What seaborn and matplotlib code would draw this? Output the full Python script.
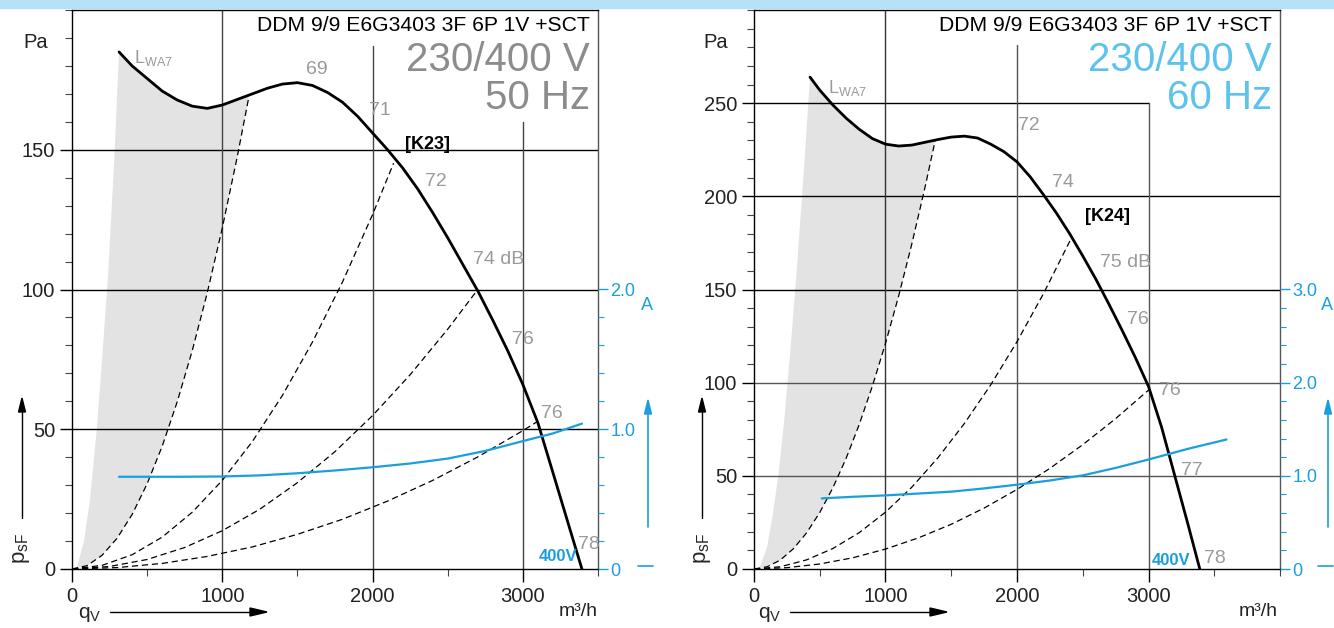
import matplotlib
matplotlib.use("Agg")
import matplotlib.pyplot as plt
import matplotlib.ticker as mticker
from matplotlib.patches import Rectangle
import seaborn as sns

# ---- data (q in m3/h, p in Pa, current in A) ----
# 50 Hz panel
q50 = [313, 400, 500, 600, 700, 800, 900, 1000, 1175, 1300, 1400, 1500, 1600, 1700, 1800, 1900,
       2000, 2100, 2200, 2300, 2400, 2500, 2600, 2700, 2800, 2900, 3000, 3100, 3200, 3300, 3393]
p50 = [185, 180, 175.5, 171, 167.8, 165.6, 164.8, 166, 169.5, 172, 173.5, 174, 173, 170.5, 167, 162,
       156, 150, 143.5, 136, 127.5, 118.5, 109, 99.5, 89, 78, 66, 52.3, 34.5, 16.6, 0]
sys50 = [
    ([0, 100, 200, 300, 400, 500, 600, 700, 800, 900, 1000, 1100, 1175],
     [0, 1.2, 4.9, 11.0, 19.5, 30.5, 43.9, 59.8, 78.1, 98.8, 122, 147.6, 168.4]),
    ([0, 200, 400, 600, 800, 1000, 1200, 1400, 1600, 1800, 2000, 2140],
     [0, 1.3, 5.1, 11.4, 20.3, 31.7, 45.6, 62.1, 81.2, 102.7, 126.8, 145.2]),
    ([0, 250, 500, 750, 1000, 1250, 1500, 1750, 2000, 2250, 2500, 2700],
     [0, 0.9, 3.4, 7.7, 13.7, 21.4, 30.9, 42.0, 54.9, 69.5, 85.8, 100.0]),
    ([0, 300, 600, 900, 1200, 1500, 1800, 2100, 2400, 2700, 3000, 3095],
     [0, 0.5, 2.0, 4.5, 7.9, 12.4, 17.8, 24.3, 31.7, 40.1, 49.5, 52.7]),
]
edge50_q = [30, 80, 120, 165, 200, 240, 280, 313]
edge50_p = [0, 10, 25, 50, 75, 105, 145, 185]
cur50_q = [313, 700, 1000, 1250, 1500, 1750, 2000, 2250, 2500, 2750, 3000, 3200, 3393]
cur50_a = [0.66, 0.66, 0.662, 0.67, 0.685, 0.705, 0.728, 0.755, 0.79, 0.845, 0.915, 0.97, 1.04]
lab50 = [("69", 1627, 178.6), ("71", 2047, 164), ("72", 2420, 138.6), ("74 dB", 2840, 110.7),
         ("76", 3000, 82.1), ("76", 3193, 55.7), ("78", 3440, 8.9)]

# 60 Hz panel
q60 = [426, 500, 600, 700, 800, 900, 1000, 1100, 1200, 1300, 1400, 1500, 1600, 1700, 1800, 1900,
       2000, 2100, 2200, 2300, 2400, 2500, 2600, 2700, 2800, 2900, 3000, 3100, 3200, 3300, 3390]
p60 = [264, 257, 249, 242, 236, 231, 228, 227, 227.5, 229, 230.5, 231.8, 232.3, 231.3, 228, 224,
       218.5, 210.5, 201, 191, 180, 168, 155.5, 142, 128, 113.5, 98, 76, 50, 24, 0]
sys60 = [
    ([0, 100, 200, 300, 400, 500, 600, 700, 800, 900, 1000, 1100, 1200, 1300, 1378],
     [0, 1.2, 4.8, 10.9, 19.4, 30.3, 43.6, 59.3, 77.5, 98.1, 121.1, 146.5, 174.4, 204.7, 230]),
    ([0, 200, 400, 600, 800, 1000, 1200, 1400, 1600, 1800, 2000, 2200, 2414],
     [0, 1.2, 4.9, 11.0, 19.5, 30.5, 43.9, 59.8, 78.1, 98.8, 122, 147.6, 177.7]),
    ([0, 250, 500, 750, 1000, 1250, 1500, 1750, 2000, 2250, 2500, 2750, 3000],
     [0, 0.7, 2.7, 6.0, 10.7, 16.7, 24.0, 32.7, 42.7, 54.0, 66.7, 80.7, 96.0]),
]
edge60_q = [40, 100, 140, 185, 230, 280, 330, 380, 426]
edge60_p = [0, 12, 28, 50, 80, 120, 165, 215, 264]
cur60_q = [515, 750, 1000, 1250, 1500, 1750, 2000, 2250, 2500, 2750, 3000, 3300, 3593]
cur60_a = [0.758, 0.775, 0.79, 0.81, 0.83, 0.865, 0.905, 0.95, 1.005, 1.085, 1.175, 1.29, 1.39]
lab60 = [("72", 2087, 238), ("74", 2353, 207.5), ("75 dB", 2826, 164.6), ("76", 2917, 134),
         ("76", 3161, 96), ("77", 3328, 53), ("78", 3503, 5.9)]

title = "DDM 9/9 E6G3403 3F 6P 1V +SCT"

BLUE = "#1a9fdc"
GREY_TXT = "#9a9a9a"
NARROW = ["Liberation Sans Narrow", "Liberation Sans", "DejaVu Sans"]

sns.set_style("white")
plt.rcParams["font.family"] = ["Liberation Sans", "DejaVu Sans"]
plt.rcParams["mathtext.default"] = "regular"

fig = plt.figure(figsize=(13.34, 6.28), dpi=100)
fig.patches.append(Rectangle((0, 1 - 8 / 628), 1, 8 / 628, transform=fig.transFigure,
                             color="#b5e2f6", zorder=0))


def panel(left, xmax, ymax, ymajor, q, p, sysc, eq, ep, cq, ca, labels, kname, kpos,
          lwa_pos, v400_q, hz, hz_color, cur_max, grids):
    ax = fig.add_axes([left / 1334, 59 / 628, 526 / 1334, 559 / 628])
    ax.set_xlim(0, xmax)
    ax.set_ylim(0, ymax)

    # grey zone: left edge, fan curve, first system curve back down
    k_end = sysc[0][0][-1]
    fq = eq + [x for x in q if x <= k_end] + sysc[0][0][::-1]
    fp = ep + [y for x, y in zip(q, p) if x <= k_end] + sysc[0][1][::-1]
    ax.fill(fq, fp, color="#e3e3e3", lw=0, zorder=1)

    # grid lines (partial, as in the data sheet)
    for kind, val, a, b, col in grids:
        if kind == "h":
            ax.plot([a, b], [val, val], color=col, lw=1, zorder=2)
        else:
            ax.plot([val, val], [a, b], color=col, lw=1, zorder=2)

    for sq, sp in sysc:
        sns.lineplot(x=sq, y=sp, ax=ax, color="black", lw=0.9, linestyle=(0, (5, 3)), zorder=3)
    sns.lineplot(x=q, y=p, ax=ax, color="black", lw=2.0, sort=False, zorder=4)

    for s in ax.spines.values():
        s.set_color("black")
        s.set_linewidth(1)
    ax.spines["right"].set_color("#555555")

    ax.xaxis.set_major_locator(mticker.FixedLocator([0, 1000, 2000, 3000]))
    ax.xaxis.set_minor_locator(mticker.MultipleLocator(500))
    ax.yaxis.set_major_locator(mticker.FixedLocator(ymajor))
    ax.yaxis.set_minor_locator(mticker.MultipleLocator(10))
    ax.tick_params(axis="both", which="major", direction="out", length=9, width=1,
                   color="black", labelsize=14.5, labelcolor="#222222")
    ax.tick_params(axis="both", which="minor", direction="out", length=5, width=0.8, color="#444444")
    ax.tick_params(axis="x", which="major", pad=4)
    ax.tick_params(axis="y", which="major", pad=3)
    ax.tick_params(left=True, bottom=True, which="both")
    ax.set_xlabel("")
    ax.set_ylabel("")

    for t, x, y in labels:
        ax.text(x, y, t, color=GREY_TXT, fontsize=14, family=NARROW, ha="center", va="center", zorder=5)
    ax.text(kpos[0], kpos[1], kname, color="black", fontsize=13, family=NARROW,
            fontweight="bold", ha="center", va="center", zorder=5)
    ax.text(lwa_pos[0], lwa_pos[1], r"L$_{WA7}$", color=GREY_TXT, fontsize=13, family=NARROW,
            ha="left", va="center", zorder=5)

    # header texts, placed on their baselines
    ax.text(0.985, (569 - 31) / 559, title, transform=ax.transAxes, ha="right", va="baseline",
            fontsize=15.2, color="black")
    ax.text(0.985, (569 - 71) / 559, "230/400 V", transform=ax.transAxes, ha="right", va="baseline",
            fontsize=29, color=hz_color)
    ax.text(0.985, (569 - 109) / 559, hz, transform=ax.transAxes, ha="right", va="baseline",
            fontsize=29, color=hz_color)

    # current axis
    ax2 = ax.twinx()
    ax2.set_ylim(0, ymax / 50)
    sns.lineplot(x=cq, y=ca, ax=ax2, color=BLUE, lw=1.6, zorder=6)
    ax2.text(v400_q, 0.086, "400V", color=BLUE, fontsize=12, family=NARROW,
             fontweight="bold", ha="center", va="center")
    for s in ax2.spines.values():
        s.set_visible(False)
    ax2.yaxis.set_major_locator(mticker.FixedLocator(list(range(0, cur_max + 1))))
    ax2.yaxis.set_major_formatter(mticker.FixedFormatter(["0"] + [f"{v:.1f}" for v in range(1, cur_max + 1)]))
    ax2.yaxis.set_minor_locator(mticker.FixedLocator([i * 0.2 for i in range(cur_max * 5 + 1)]))
    ax2.tick_params(axis="y", which="major", direction="out", length=7, width=1, color=BLUE,
                    labelcolor=BLUE, labelsize=13, pad=2)
    ax2.tick_params(axis="y", which="minor", direction="out", length=4, width=0.8, color=BLUE)
    ax2.set_ylabel("")
    return ax


panel(72, 3500, 200, [0, 50, 100, 150], q50, p50, sys50, edge50_q, edge50_p, cur50_q, cur50_a,
      lab50, "[K23]", (2367, 152), (410, 183), 3233, "50 Hz", "#8c8c8c", 2,
      [("h", 150, 0, 3500, "black"), ("h", 100, 0, 3500, "black"), ("h", 50, 0, 3500, "black"),
       ("v", 1000, 0, 200, "#444444"), ("v", 2000, 0, 187, "#444444"), ("v", 3000, 0, 160, "#444444")])

panel(754, 4000, 300, [0, 50, 100, 150, 200, 250], q60, p60, sys60, edge60_q, edge60_p, cur60_q, cur60_a,
      lab60, "[K24]", (2688, 189.3), (564, 258), 3168, "60 Hz", "#5cc2ee", 3,
      [("h", 250, 0, 3000, "black"), ("h", 200, 0, 4000, "black"), ("h", 150, 0, 4000, "black"),
       ("h", 100, 0, 4000, "#555555"), ("h", 50, 0, 4000, "#555555"),
       ("v", 1000, 0, 300, "#333333"), ("v", 2000, 0, 281, "#555555"), ("v", 3000, 0, 250, "#555555")])

# figure-level axis captions and arrows
for off in (0, 680):
    fx = lambda px: (px + off) / 1334
    fy = lambda py: 1 - py / 628
    fig.text(fx(36), fy(42), "Pa", fontsize=14.5, ha="center", va="center", color="#222222")
    fig.text(fx(22), fy(548), r"p$_{sF}$", fontsize=16, rotation=90, ha="center", va="center")
    fig.text(fx(78), fy(614), r"q$_V$", fontsize=15, ha="left", va="center")
    fig.text(fx(578), fy(612), "m³/h", fontsize=14, ha="center", va="center", color="#222222")
    fig.text(fx(647), fy(306), "A", fontsize=13, ha="center", va="center", color=BLUE)
    fig.add_artist(plt.Line2D([fx(638), fx(653)], [fy(566), fy(566)], color=BLUE, lw=1.2,
                              transform=fig.transFigure))
    fig.add_artist(plt.Line2D([fx(22), fx(22)], [fy(518), fy(412)], color="black", lw=1,
                              transform=fig.transFigure))
    fig.add_artist(plt.Line2D([fx(110), fx(250)], [fy(612), fy(612)], color="black", lw=1,
                              transform=fig.transFigure))
    fig.add_artist(plt.Line2D([fx(648), fx(648)], [fy(527), fy(412)], color=BLUE, lw=1.2,
                              transform=fig.transFigure))
    fig.patches.append(plt.Polygon([[fx(18.5), fy(412)], [fx(25.5), fy(412)], [fx(22), fy(398)]],
                                   closed=True, color="black", transform=fig.transFigure))
    fig.patches.append(plt.Polygon([[fx(250), fy(608)], [fx(250), fy(616)], [fx(267), fy(612)]],
                                   closed=True, color="black", transform=fig.transFigure))
    fig.patches.append(plt.Polygon([[fx(644.5), fy(414)], [fx(651.5), fy(414)], [fx(648), fy(400)]],
                                   closed=True, color=BLUE, transform=fig.transFigure))

fig.savefig("out.png", dpi=100)
